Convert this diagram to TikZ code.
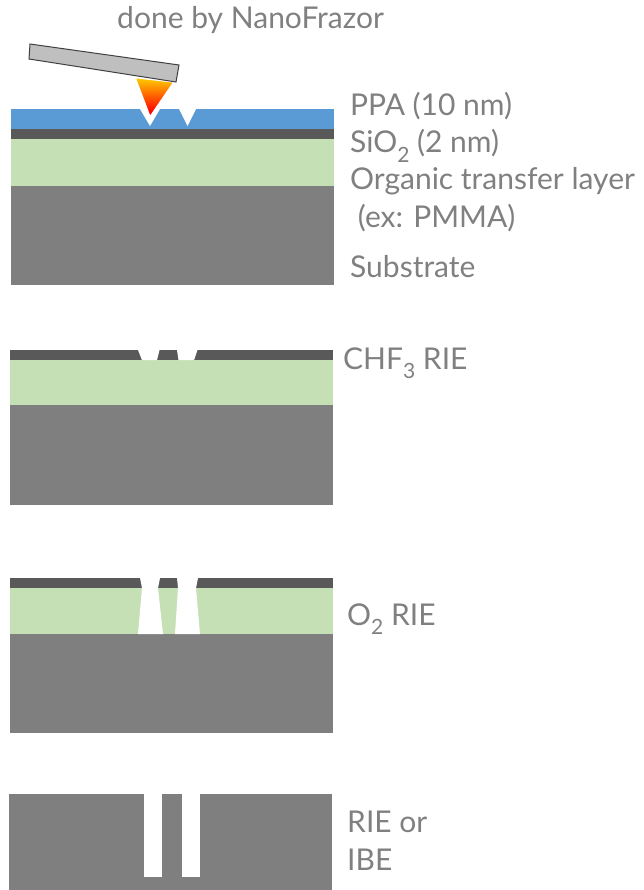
\documentclass[tikz,border=0pt]{standalone}
\usepackage{fontspec}
\setmainfont{Lato}
% lowered index digit for chemical formulae
\newcommand\chemidx[1]{\raisebox{-0.32em}{\fontsize{21}{21}\selectfont #1}}
\pgfdeclareverticalshading{tipheat}{100bp}{
  color(0bp)=(red!65!black); color(12bp)=(red!65!black); color(32bp)=(red);
  color(58bp)=(orange); color(82bp)=(yellow); color(100bp)=(yellow)}
\begin{document}
\begin{tikzpicture}[x=1pt,y=-1pt,
  lbl/.style={anchor=base west,inner sep=0pt,text=labelgray,font=\fontsize{30}{34}\selectfont},
  ppa/.style={fill=ppablue},
  oxide/.style={fill=oxidegray},
  organic/.style={fill=organicgreen},
  substrate/.style={fill=subgray},
  hole/.style={fill=white}]
\definecolor{ppablue}{HTML}{5B9BD5}
\definecolor{oxidegray}{HTML}{595959}
\definecolor{organicgreen}{HTML}{C5E0B4}
\definecolor{subgray}{HTML}{7F7F7F}
\definecolor{labelgray}{HTML}{808080}
\definecolor{cantigray}{HTML}{BFBFBF}
\definecolor{cantiedge}{HTML}{404040}
\useasboundingbox (0,0) rectangle (643,890);

% ---- stack 1: patterning of the PPA resist ----
\path[substrate] (11,186) rectangle (334,285);
\path[organic]   (11,139) rectangle (334,186);
\path[oxide]     (11,129) rectangle (334,139);
\path[ppa]       (11,109) rectangle (334,129);
\path[hole] (140,109) -- (160,109) -- (150,126) -- cycle;
\path[hole] (179,109) -- (196,109) -- (187.5,126) -- cycle;
% heated tip with its cantilever
\begin{scope}
  \clip (135,77.5) -- (174,82) -- (150,117) -- cycle;
  \shade[shading=tipheat] (130,76) rectangle (176,118);
\end{scope}
\draw[white,line width=1.5pt,line join=miter] (135,77.5) -- (174,82) -- (150,117) -- cycle;
\draw[fill=cantigray,draw=cantiedge,line width=1pt]
  (30,44) -- (179,65) -- (176,82) -- (29,59) -- cycle;

\node[lbl] (tool) at (117,29) {done by NanoFrazor};
\node[lbl] (lppa) at (350,116) {PPA (10 nm)};
\node[lbl] (lsio) at (350,153) {SiO\chemidx{2} (2 nm)};
\node[lbl] (lorg) at (350,190) {Organic transfer layer};
\node[lbl] (lex)  at (350,228) {\ (ex: PMMA)};
\node[lbl] (lsub) at (350,277) {Substrate};

% ---- stack 2: CHF3 RIE opens the oxide ----
\path[substrate] (10,405) rectangle (333,505);
\path[organic]   (10,360) rectangle (333,405);
\path[oxide]     (10,350) rectangle (333,360);
\path[hole] (138,350) -- (159.5,350) -- (157,360.2) -- (142,360.2) -- cycle;
\path[hole] (177,350) -- (197.5,350) -- (194,360.2) -- (178.5,360.2) -- cycle;
\node[lbl] (lchf) at (343,369) {CHF\chemidx{3} RIE};

% ---- stack 3: O2 RIE transfers into the organic layer ----
\path[substrate] (10,634) rectangle (333,733);
\path[organic]   (10,588) rectangle (333,634);
\path[oxide]     (10,578) rectangle (333,588);
\path[hole] (140,578) -- (160,578) -- (158,588) -- (163,634.2) -- (138,634.2) -- (142,588) -- cycle;
\path[hole] (177,578) -- (198,578) -- (196,588) -- (200,634.2) -- (175,634.2) -- (178,588) -- cycle;
\node[lbl] (lotwo) at (347,625) {O\chemidx{2} RIE};

% ---- stack 4: etch into the substrate ----
\path[substrate] (9,794) rectangle (332,890);
\path[hole] (144,794) rectangle (162,877);
\path[hole] (182,794) rectangle (200,877);
\node[lbl] (lrie) at (347,832) {RIE or};
\node[lbl] (libe) at (347,870) {IBE};
\end{tikzpicture}
\end{document}
